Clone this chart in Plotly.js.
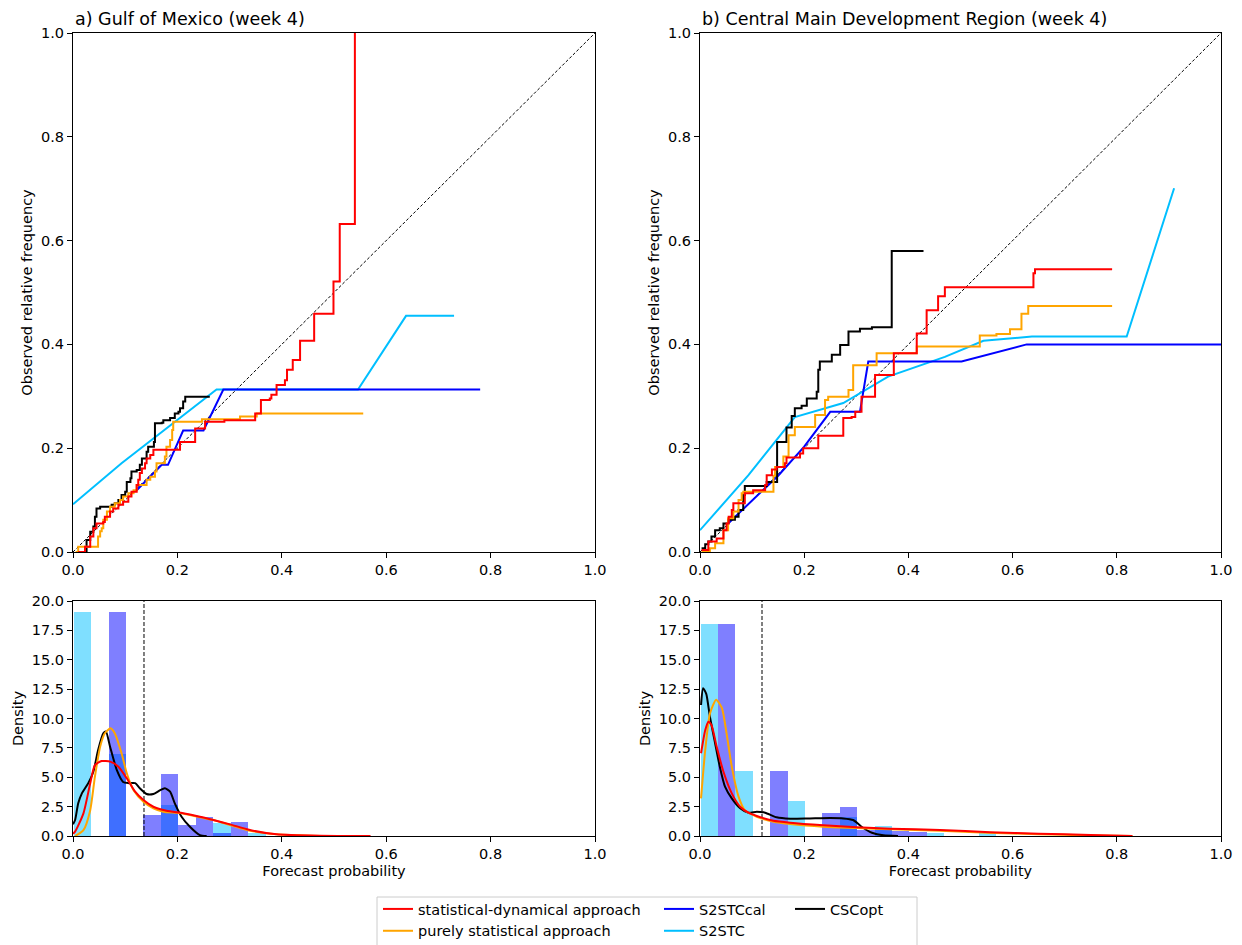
<!DOCTYPE html>
<html>
<head>
<meta charset="utf-8">
<script src="https://cdn.plot.ly/plotly-3.0.1.min.js"></script>
<style>html,body{margin:0;padding:0;background:#fff;}#chart{width:1242px;height:945px;}</style>
</head>
<body>
<div id="chart"></div>
<script>
// ---------------- DATA ----------------
// Panel a) Gulf of Mexico - reliability curves
const redL_x = [0.010,0.023,0.033,0.039,0.045,0.058,0.061,0.071,0.077,0.087,0.096,0.106,0.112,0.122,0.125,0.128,0.132,0.138,0.141,0.148,0.154,0.205,0.234,0.253,0.290,0.349,0.360,0.377,0.380,0.390,0.406,0.410,0.421,0.435,0.462,0.499,0.511,0.540];
const redL_y = [0.000,0.010,0.030,0.046,0.055,0.058,0.068,0.078,0.084,0.091,0.097,0.107,0.116,0.129,0.139,0.152,0.161,0.171,0.180,0.187,0.197,0.212,0.238,0.251,0.254,0.267,0.293,0.296,0.303,0.322,0.331,0.351,0.370,0.407,0.459,0.521,0.632,1.000];
const orangeL_x = [0.005,0.010,0.048,0.052,0.055,0.058,0.065,0.071,0.080,0.090,0.096,0.106,0.116,0.122,0.141,0.148,0.157,0.160,0.176,0.179,0.186,0.190,0.192,0.247,0.320,0.352,0.556];
const orangeL_y = [0.000,0.010,0.030,0.040,0.046,0.062,0.078,0.087,0.094,0.100,0.107,0.113,0.119,0.129,0.139,0.145,0.155,0.171,0.184,0.203,0.216,0.235,0.251,0.256,0.261,0.267,0.267];
const blackL_x = [0.013,0.026,0.033,0.039,0.042,0.045,0.052,0.074,0.080,0.087,0.093,0.100,0.103,0.110,0.112,0.122,0.128,0.132,0.141,0.144,0.155,0.157,0.170,0.173,0.186,0.195,0.202,0.205,0.211,0.215,0.262];
const blackL_y = [0.000,0.023,0.039,0.049,0.068,0.084,0.087,0.091,0.094,0.100,0.110,0.116,0.135,0.142,0.155,0.158,0.168,0.180,0.193,0.203,0.212,0.248,0.249,0.254,0.258,0.267,0.270,0.277,0.290,0.299,0.299];
const cyanL_x = [0.000,0.093,0.275,0.546,0.638,0.730];
const cyanL_y = [0.092,0.171,0.313,0.313,0.455,0.455];
const blueL_x = [0.122,0.170,0.182,0.211,0.250,0.288,0.780];
const blueL_y = [0.119,0.168,0.168,0.234,0.234,0.313,0.313];

// Panel b) Central MDR - reliability curves
const redR_x = [0.003,0.016,0.032,0.045,0.051,0.055,0.061,0.064,0.086,0.102,0.125,0.128,0.138,0.147,0.163,0.166,0.192,0.198,0.227,0.275,0.291,0.298,0.310,0.336,0.372,0.416,0.435,0.457,0.470,0.640,0.643,0.791];
const redR_y = [0.004,0.020,0.026,0.042,0.055,0.068,0.081,0.094,0.113,0.119,0.129,0.148,0.159,0.164,0.171,0.182,0.190,0.200,0.224,0.258,0.260,0.270,0.299,0.341,0.383,0.421,0.466,0.493,0.510,0.537,0.545,0.545];
const orangeR_x = [0.003,0.019,0.029,0.045,0.054,0.064,0.074,0.080,0.083,0.141,0.144,0.160,0.170,0.182,0.221,0.240,0.246,0.285,0.294,0.339,0.416,0.537,0.569,0.595,0.617,0.630,0.791];
const orangeR_y = [0.000,0.007,0.017,0.042,0.065,0.078,0.100,0.113,0.116,0.147,0.164,0.184,0.225,0.241,0.264,0.293,0.299,0.312,0.360,0.383,0.396,0.417,0.420,0.429,0.459,0.474,0.474];
const blackR_x = [0.003,0.010,0.016,0.022,0.029,0.038,0.045,0.054,0.067,0.074,0.083,0.086,0.128,0.148,0.166,0.176,0.182,0.195,0.205,0.224,0.227,0.230,0.253,0.269,0.285,0.307,0.330,0.368,0.429];
const blackR_y = [0.007,0.015,0.020,0.030,0.042,0.046,0.055,0.062,0.068,0.081,0.110,0.127,0.135,0.212,0.240,0.262,0.277,0.282,0.296,0.309,0.351,0.367,0.380,0.399,0.425,0.430,0.433,0.580,0.580];
const cyanR_x = [0.000,0.093,0.182,0.275,0.361,0.470,0.544,0.637,0.819,0.910];
const cyanR_y = [0.042,0.148,0.260,0.287,0.338,0.376,0.407,0.415,0.415,0.701];
const blueR_x = [0.054,0.150,0.200,0.250,0.307,0.323,0.502,0.627,1.000];
const blueR_y = [0.055,0.147,0.203,0.270,0.270,0.367,0.367,0.400,0.400];

// Histograms (density) - bin edges and densities
const binEdgesL = [0.002,0.035,0.069,0.102,0.135,0.169,0.202,0.236,0.269,0.302,0.336,0.369];
const histCyanL = [19.1,0,7.0,0,0,2.64,0,0,1.08,0,0.28];
const histBlueL = [0,0,19.1,0,1.79,5.28,0.94,1.64,0.25,1.22,0];
const binEdgesR = [0.001,0.034,0.068,0.101,0.135,0.168,0.201,0.235,0.268,0.302,0.335,0.368,0.402,0.435,0.469,0.502,0.536,0.569,0.602,0.636];
const histCyanR = [18.04,0,5.56,0,0,2.98,0,0,1.59,0,0.88,0,0,0.28,0,0,0.28,0,0,0.12];
const histBlueR = [0,18.04,0,0,5.56,0,0,1.98,2.44,0.5,0.65,0.45,0.37,0,0,0,0,0,0];

// KDE curves
const kdeBlackL_x = [0.000,0.004,0.010,0.017,0.029,0.039,0.048,0.058,0.063,0.071,0.084,0.096,0.106,0.119,0.128,0.141,0.154,0.167,0.176,0.186,0.195,0.208,0.224,0.243,0.256];
const kdeBlackL_y = [1.0,1.36,2.78,3.63,4.48,5.47,7.3,8.74,8.9,7.6,5.6,4.6,4.5,4.5,4.06,3.57,3.57,3.9,4.06,3.77,2.78,1.64,0.79,0.08,0.0];
const kdeOrangeL_x = [0.004,0.020,0.033,0.042,0.052,0.061,0.072,0.080,0.093,0.103,0.116,0.135,0.154,0.173,0.205,0.243,0.269,0.301,0.339,0.390,0.454,0.520];
const kdeOrangeL_y = [0.0,0.5,2.2,5.05,7.6,8.74,9.16,8.74,7.04,5.34,3.9,2.92,2.36,2.07,1.95,1.59,1.36,0.94,0.45,0.14,0.02,0.0];
const kdeRedL_x = [0.000,0.004,0.020,0.033,0.042,0.055,0.071,0.087,0.103,0.119,0.135,0.154,0.179,0.211,0.243,0.269,0.301,0.339,0.390,0.473,0.570];
const kdeRedL_y = [0.2,0.37,1.93,4.48,6.04,6.38,6.33,5.9,4.91,3.77,3.06,2.49,2.15,1.93,1.64,1.36,0.99,0.51,0.14,0.02,0.0];
const kdeBlackR_x = [0.002,0.006,0.012,0.019,0.029,0.038,0.048,0.061,0.077,0.093,0.109,0.125,0.147,0.173,0.211,0.250,0.275,0.294,0.310,0.330,0.352,0.380];
const kdeBlackR_y = [11.15,12.57,12.1,10.15,7.9,5.9,4.2,3.2,2.36,1.98,2.07,1.98,1.59,1.47,1.5,1.53,1.5,1.36,0.79,0.28,0.06,0.0];
const kdeOrangeR_x = [0.002,0.010,0.019,0.031,0.042,0.051,0.061,0.074,0.086,0.109,0.141,0.173,0.237,0.301,0.365,0.461,0.550,0.650,0.750,0.830];
const kdeOrangeR_y = [3.2,7.3,10.4,11.6,10.9,8.74,5.9,3.35,2.2,1.64,1.22,1.02,0.79,0.68,0.57,0.45,0.28,0.15,0.05,0.0];
const kdeRedR_x = [0.002,0.010,0.016,0.022,0.032,0.045,0.061,0.077,0.093,0.109,0.141,0.173,0.237,0.301,0.365,0.461,0.557,0.650,0.750,0.830];
const kdeRedR_y = [7.04,9.0,9.73,9.45,7.6,5.47,3.63,2.49,1.98,1.70,1.30,1.13,0.91,0.74,0.62,0.51,0.32,0.2,0.08,0.0];

// Thresholds (vertical dashed lines)
const thresholdL = 0.136;
const thresholdR = 0.119;

// Labels
const names = {red:'statistical-dynamical approach', orange:'purely statistical approach', blue:'S2STCcal', cyan:'S2STC', black:'CSCopt'};
const titles = ['a) Gulf of Mexico (week 4)', 'b) Central Main Development Region (week 4)'];

// ---------------- STYLE ----------------
const FONT = 'DejaVu Sans, sans-serif';
const FS = 14.5, FT = 17.5;
const C = {red:'#FF0000', orange:'#FFA500', blue:'#0000FF', cyan:'#00BFFF', black:'#000000'};
const LW = 2;

function centers(e){ const c=[]; for(let i=0;i<e.length-1;i++) c.push((e[i]+e[i+1])/2); return c; }
function widths(e){ const w=[]; for(let i=0;i<e.length-1;i++) w.push(e[i+1]-e[i]); return w; }

const traces = [];
function rel(xa, ya, d, showleg){
  traces.push({x:[0,1], y:[0,1], xaxis:xa, yaxis:ya, mode:'lines', line:{color:'black', width:1, dash:'3px,2px'}, showlegend:false, hoverinfo:'skip'});
  traces.push({x:d.cx, y:d.cy, xaxis:xa, yaxis:ya, mode:'lines', name:names.cyan, line:{color:C.cyan, width:LW}, legend:'legend2', legendgroup:'c', legendrank:2, showlegend:showleg});
  traces.push({x:d.bx, y:d.by, xaxis:xa, yaxis:ya, mode:'lines', name:names.blue, line:{color:C.blue, width:LW}, legend:'legend2', legendgroup:'b', legendrank:1, showlegend:showleg});
  traces.push({x:d.kx, y:d.ky, xaxis:xa, yaxis:ya, mode:'lines', name:names.black, line:{color:C.black, width:LW, shape:'hv'}, legend:'legend3', legendgroup:'k', showlegend:showleg});
  traces.push({x:d.ox, y:d.oy, xaxis:xa, yaxis:ya, mode:'lines', name:names.orange, line:{color:C.orange, width:LW, shape:'hv'}, legend:'legend', legendgroup:'o', legendrank:2, showlegend:showleg});
  traces.push({x:d.rx, y:d.ry, xaxis:xa, yaxis:ya, mode:'lines', name:names.red, line:{color:C.red, width:LW, shape:'hv'}, legend:'legend', legendgroup:'r', legendrank:1, showlegend:showleg});
}
rel('x','y',{cx:cyanL_x,cy:cyanL_y,bx:blueL_x,by:blueL_y,kx:blackL_x,ky:blackL_y,ox:orangeL_x,oy:orangeL_y,rx:redL_x,ry:redL_y}, true);
rel('x2','y2',{cx:cyanR_x,cy:cyanR_y,bx:blueR_x,by:blueR_y,kx:blackR_x,ky:blackR_y,ox:orangeR_x,oy:orangeR_y,rx:redR_x,ry:redR_y}, false);

function dens(xa, ya, edges, hc, hb, thr, k){
  traces.push({type:'bar', x:centers(edges), y:hc, width:widths(edges), xaxis:xa, yaxis:ya, marker:{color:'rgba(0,191,255,0.5)', line:{width:0}}, showlegend:false, hoverinfo:'skip'});
  traces.push({type:'bar', x:centers(edges), y:hb, width:widths(edges), xaxis:xa, yaxis:ya, marker:{color:'rgba(0,0,255,0.5)', line:{width:0}}, showlegend:false, hoverinfo:'skip'});
  traces.push({x:[thr,thr], y:[0,20], xaxis:xa, yaxis:ya, mode:'lines', line:{color:'black', width:1, dash:'4px,2px'}, showlegend:false, hoverinfo:'skip'});
  traces.push({x:k.bx, y:k.by, xaxis:xa, yaxis:ya, mode:'lines', line:{color:C.black, width:LW, shape:'spline', smoothing:0.6}, showlegend:false});
  traces.push({x:k.ox, y:k.oy, xaxis:xa, yaxis:ya, mode:'lines', line:{color:C.orange, width:LW, shape:'spline', smoothing:0.6}, showlegend:false});
  traces.push({x:k.rx, y:k.ry, xaxis:xa, yaxis:ya, mode:'lines', line:{color:C.red, width:LW, shape:'spline', smoothing:0.6}, showlegend:false});
}
dens('x3','y3',binEdgesL,histCyanL,histBlueL,thresholdL,{bx:kdeBlackL_x,by:kdeBlackL_y,ox:kdeOrangeL_x,oy:kdeOrangeL_y,rx:kdeRedL_x,ry:kdeRedL_y});
dens('x4','y4',binEdgesR,histCyanR,histBlueR,thresholdR,{bx:kdeBlackR_x,by:kdeBlackR_y,ox:kdeOrangeR_x,oy:kdeOrangeR_y,rx:kdeRedR_x,ry:kdeRedR_y});

const W = 1242, H = 945;
const dxL = [73/W, 595/W], dxR = [700/W, 1221/W];
const dyT = [(H-552)/H, (H-33)/H], dyB = [(H-836)/H, (H-601)/H];

function ax(domain, anchor, range, dtick, title, standoff){
  const a = {domain:domain, anchor:anchor, range:range, dtick:dtick, tick0:0, tickformat:'.1f',
    showline:true, linecolor:'black', linewidth:1, mirror:true, ticks:'outside', ticklen:5, tickwidth:1, tickcolor:'black',
    showgrid:false, zeroline:false, tickfont:{family:FONT, size:FS, color:'black'}, fixedrange:true, automargin:false};
  if(title) a.title = {text:title, font:{family:FONT, size:FS, color:'black'}, standoff:standoff};
  return a;
}

const legBase = {orientation:'v', yanchor:'top', xanchor:'left', bgcolor:'rgba(0,0,0,0)', borderwidth:0, font:{family:FONT, size:FS, color:'black'}, tracegroupgap:2, traceorder:'normal', y:(H-893)/H};

const layout = {
  width:W, height:H, margin:{l:0,r:0,t:0,b:0,autoexpand:false}, paper_bgcolor:'white', plot_bgcolor:'white',
  barmode:'overlay', bargap:0,
  font:{family:FONT, size:FS, color:'black'},
  xaxis: ax(dxL,'y',[0,1],0.2),
  yaxis: ax(dyT,'x',[0,1],0.2,'Observed relative frequency',4),
  xaxis2: ax(dxR,'y2',[0,1],0.2),
  yaxis2: ax(dyT,'x2',[0,1],0.2,'Observed relative frequency',4),
  xaxis3: ax(dxL,'y3',[0,1],0.2,'Forecast probability',4),
  yaxis3: ax(dyB,'x3',[0,20],2.5,'Density',4),
  xaxis4: ax(dxR,'y4',[0,1],0.2,'Forecast probability',4),
  yaxis4: ax(dyB,'x4',[0,20],2.5,'Density',4),
  legend: Object.assign({}, legBase, {x:378/W}),
  legend2: Object.assign({}, legBase, {x:659/W}),
  legend3: Object.assign({}, legBase, {x:790/W}),
  showlegend:true,
  annotations:[
    {text:titles[0], xref:'paper', yref:'paper', x:dxL[0], y:dyT[1], xanchor:'left', yanchor:'bottom', yshift:2, showarrow:false, font:{family:FONT, size:FT, color:'black'}},
    {text:titles[1], xref:'paper', yref:'paper', x:dxR[0], y:dyT[1], xanchor:'left', yanchor:'bottom', yshift:2, showarrow:false, font:{family:FONT, size:FT, color:'black'}}
  ],
  shapes:[
    {type:'rect', xref:'paper', yref:'paper', x0:377/W, x1:917/W, y0:-3/H, y1:(H-897)/H, line:{color:'#cccccc', width:1}, fillcolor:'rgba(255,255,255,0.8)', layer:'below'}
  ]
};

Plotly.newPlot('chart', traces, layout, {staticPlot:true, displayModeBar:false});
</script>
</body>
</html>
